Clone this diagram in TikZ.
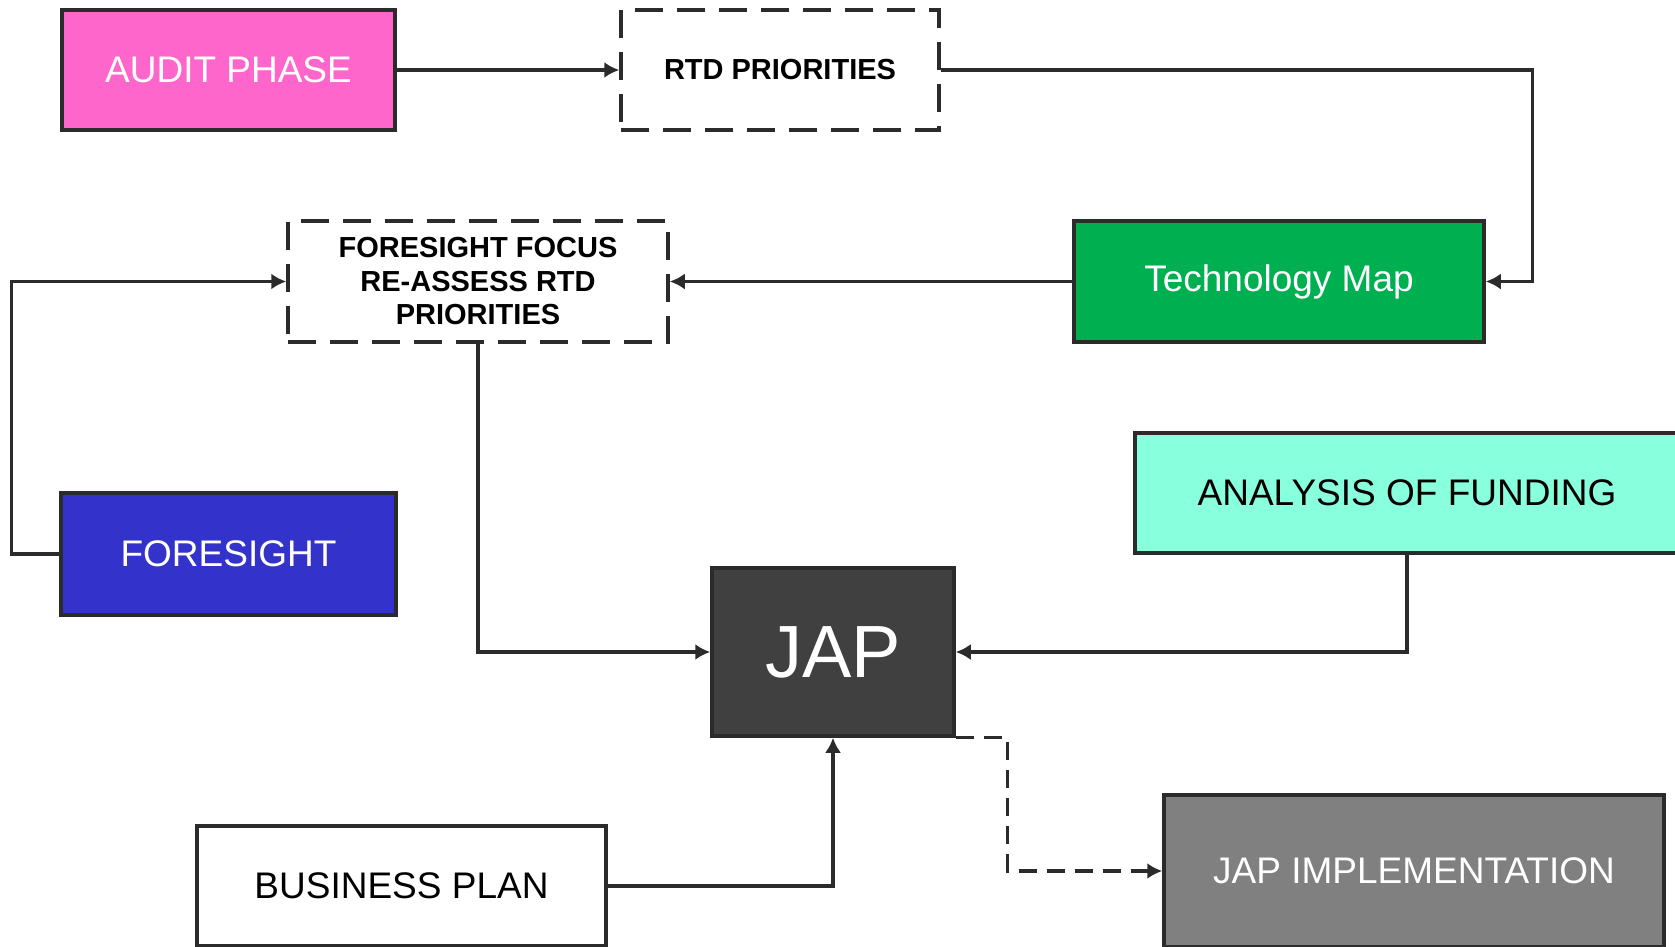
\documentclass[tikz,border=0pt]{standalone}
\usepackage{fontspec}
\setmainfont{Liberation Sans}
\usetikzlibrary{arrows.meta}
\definecolor{ink}{HTML}{2B2B2B}
\definecolor{pink}{HTML}{FF66CC}
\definecolor{green}{HTML}{00B050}
\definecolor{aqua}{HTML}{88FFDD}
\definecolor{indigo}{HTML}{3333CC}
\definecolor{charcoal}{HTML}{404040}
\definecolor{slate}{HTML}{808080}
\tikzset{
  box/.style={draw=ink, line width=3.5pt, inner sep=0pt, font=\fontsize{37}{44}\selectfont},
  dashbox/.style={box, fill=white, dash pattern=on 28pt off 14pt, align=center,
    font=\fontsize{29}{33.5}\selectfont\bfseries},
  link/.style={draw=ink, line width=3.2pt, -{Latex[length=15pt,width=16pt]}},
}

\begin{document}
\begin{tikzpicture}[x=1pt,y=-1pt]
  \useasboundingbox (0,0) rectangle (1675,946);
  \clip (0,0) rectangle (1675,946);
  % top row
  \node[box, fill=pink, text=white, minimum width=333pt, minimum height=120pt] (audit) at (228.5,70) {AUDIT PHASE};
  \node[dashbox, minimum width=318pt, minimum height=120pt] (rtd) at (780,70) {RTD PRIORITIES};
  % second row
  \node[dashbox, minimum width=380pt, minimum height=121pt] (focus) at (478,281.5) {FORESIGHT FOCUS\\RE-ASSESS RTD\\PRIORITIES};
  \node[box, fill=green, text=white, minimum width=410pt, minimum height=121pt] (techmap) at (1279,281.5) {Technology Map};
  % middle
  \node[box, fill=aqua, minimum width=544pt, minimum height=120pt] (funding) at (1407,493) {ANALYSIS OF FUNDING};
  \node[box, fill=indigo, text=white, minimum width=335pt, minimum height=122pt] (foresight) at (228.5,554) {FORESIGHT};
  \node[box, fill=charcoal, text=white, minimum width=242pt, minimum height=168pt, font=\fontsize{74}{80}\selectfont] (jap) at (833,652) {JAP};
  % bottom row
  \node[box, fill=white, minimum width=409pt, minimum height=120pt] (business) at (401.5,886) {BUSINESS PLAN};
  \node[box, fill=slate, text=white, minimum width=500pt, minimum height=152pt] (impl) at (1414,871) {JAP IMPLEMENTATION};

  \draw[link] (audit) -- (rtd);
  \draw[link] (rtd.east) -- ++(592,0) |- (techmap.east);
  \draw[link] (techmap) -- (focus);
  \draw[link] (foresight.west) -- ++(-48,0) |- (focus.west);
  \draw[link] (focus.south) |- (jap.west);
  \draw[link] (funding.south) |- (jap.east);
  \draw[link] (business.east) -| (jap.south);
  \draw[link, dash pattern=on 18pt off 10pt] (jap.south east) -- ++(52,0) |- (impl.west);
\end{tikzpicture}
\end{document}
